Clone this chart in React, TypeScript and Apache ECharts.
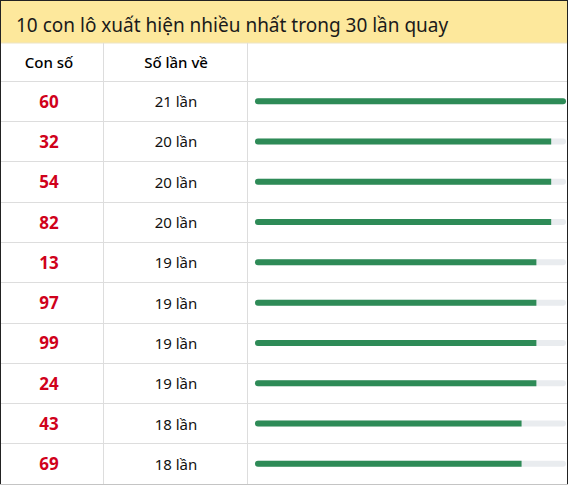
import * as echarts from "echarts";
import { useEffect, useRef } from "react";

const titleText = "10 con lô xuất hiện nhiều nhất trong 30 lần quay";
const headers = ["Con số", "Số lần về"];
const numbers = ["60", "32", "54", "82", "13", "97", "99", "24", "43", "69"];
const counts = [21, 20, 20, 20, 19, 19, 19, 19, 18, 18];

const FONT = "Noto Sans";
const LINE = "#dddddd";

export default function App() {
  const chartRef = useRef<HTMLDivElement>(null);

  useEffect(() => {
    if (!chartRef.current) return;
    const chart = echarts.init(chartRef.current, null, { renderer: "svg" });
    const maxCount = Math.max(...counts);

    const option = {
      animation: false,
      textStyle: { fontFamily: FONT },
      title: {
        text: titleText,
        left: 11,
        top: 10,
        textStyle: { fontSize: 19, fontWeight: "normal", color: "#1a1a1a", fontFamily: FONT },
      },
      graphic: [
        { type: "rect", z: -10, shape: { x: 0, y: 0, width: 568, height: 43 }, style: { fill: "#fde89c" } },
        {
          type: "text",
          x: 49,
          y: 62,
          style: { text: headers[0], align: "center", verticalAlign: "middle", fontSize: 15, fontFamily: FONT, fontWeight: 500, fill: "#000" },
        },
        {
          type: "text",
          x: 176,
          y: 62,
          style: { text: headers[1], align: "center", verticalAlign: "middle", fontSize: 15, fontFamily: FONT, fontWeight: 500, fill: "#000" },
        },
        { type: "line", shape: { x1: 0, y1: 43, x2: 568, y2: 43 }, style: { stroke: "#ece4c4", lineWidth: 1 } },
        { type: "line", shape: { x1: 103.5, y1: 43, x2: 103.5, y2: 485 }, style: { stroke: LINE, lineWidth: 1 } },
        { type: "line", shape: { x1: 247.5, y1: 43, x2: 247.5, y2: 485 }, style: { stroke: LINE, lineWidth: 1 } },
        { type: "line", z: 20, shape: { x1: 0, y1: 0.5, x2: 568, y2: 0.5 }, style: { stroke: "#222", lineWidth: 1 } },
        { type: "line", z: 20, shape: { x1: 0.5, y1: 0, x2: 0.5, y2: 485 }, style: { stroke: "#222", lineWidth: 1 } },
        { type: "line", z: 20, shape: { x1: 567.5, y1: 0, x2: 567.5, y2: 485 }, style: { stroke: "#222", lineWidth: 1 } },
        { type: "line", z: 20, shape: { x1: 0, y1: 484.5, x2: 568, y2: 484.5 }, style: { stroke: "#c4c4c4", lineWidth: 1 } },
      ],
      grid: [
        // bars and row labels
        { left: 255, right: 2, top: 81, height: 403 },
        // full-width grid for the row separators
        { left: 0, right: 0, top: 81, height: 403 },
      ],
      xAxis: [
        { gridIndex: 0, type: "value", min: 0, max: maxCount, show: false },
        { gridIndex: 1, type: "value", min: 0, max: 1, show: false },
      ],
      yAxis: [
        {
          gridIndex: 0,
          type: "category",
          position: "left",
          offset: 0,
          inverse: true,
          data: numbers,
          axisLine: { show: false },
          axisTick: { show: false },
          axisLabel: {
            margin: 79,
            align: "center",
            fontSize: 15,
            color: "#111",
            fontFamily: FONT,
            formatter: (_v: string, i: number) => `${counts[i]} lần`,
          },
        },
        {
          gridIndex: 0,
          type: "category",
          position: "left",
          offset: 0,
          inverse: true,
          data: numbers,
          axisLine: { show: false },
          axisTick: { show: false },
          axisLabel: {
            margin: 206,
            align: "center",
            fontSize: 17,
            fontWeight: "bold",
            color: "#d0011b",
            fontFamily: FONT,
          },
        },
        {
          gridIndex: 1,
          type: "category",
          inverse: true,
          data: numbers,
          axisLine: { show: false },
          axisTick: { show: false },
          axisLabel: { show: false },
          splitLine: { show: true, lineStyle: { color: LINE } },
        },
      ],
      series: [
        {
          type: "bar",
          xAxisIndex: 0,
          yAxisIndex: 0,
          barWidth: 6,
          showBackground: true,
          backgroundStyle: { color: "#e9ecef", borderRadius: 3 },
          data: counts.map((c) => ({
            value: c,
            itemStyle: { borderRadius: c === maxCount ? 3 : [3, 0, 0, 3] },
          })),
          itemStyle: { color: "#2e8b57" },
        },
      ],
    };

    chart.setOption(option);
    return () => chart.dispose();
  }, []);

  return (
    <div
      ref={chartRef}
      style={{ position: "absolute", left: 0, top: 0, width: 568, height: 485 }}
    />
  );
}
